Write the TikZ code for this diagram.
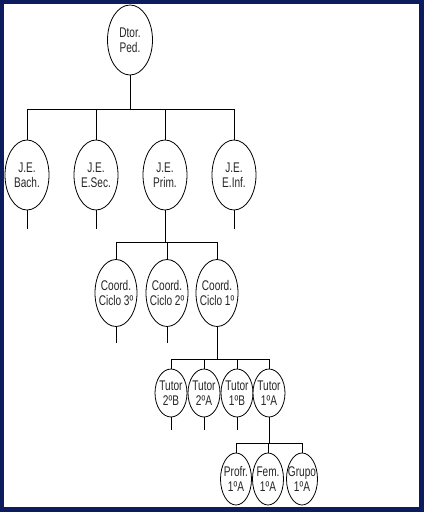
\documentclass[tikz,border=0pt]{standalone}
\usepackage{fontspec}
\setmainfont{Liberation Sans}[FakeStretch=0.72]
\usetikzlibrary{shapes.geometric}
\definecolor{navy}{RGB}{12,28,95}
\tikzset{
  ell/.style={ellipse, draw=black, line width=0.8pt, fill=white, inner sep=0pt},
  lvA/.style={ell, minimum width=45pt, minimum height=70pt},
  lvB/.style={ell, minimum width=44pt, minimum height=70pt},
  lvC/.style={ell, minimum width=42pt, minimum height=67pt},
  lvD/.style={ell, minimum width=32pt, minimum height=48pt},
  lvE/.style={ell, minimum width=31pt, minimum height=52pt},
  every label/.style={align=center, inner sep=0pt, text=black!85,
    font=\fontsize{14pt}{15pt}\selectfont},
  conn/.style={line width=0.9pt, draw=black}
}
\begin{document}
\begin{tikzpicture}[x=1pt, y=-1pt]
\useasboundingbox (0,0) rectangle (424,512);
\fill[navy] (0,0) rectangle (424,512);
\fill[white] (4,4) rectangle (419,507);

% level 1
\node[lvA, label={center:Dtor.\\Ped.}] (dtor) at (130,40) {};
% level 2
\node[lvB, label={center:J.E.\\Bach.}] (bach) at (27,175) {};
\node[lvB, label={center:J.E.\\E.Sec.}] (esec) at (96,175) {};
\node[lvB, label={center:J.E.\\Prim.}] (prim) at (165,175) {};
\node[lvB, label={center:J.E.\\E.Inf.}] (einf) at (234,175) {};
% level 3
\node[lvC, label={center:Coord.\\Ciclo 3º}] (c3) at (116,293) {};
\node[lvC, label={center:Coord.\\Ciclo 2º}] (c2) at (167,293) {};
\node[lvC, label={center:Coord.\\Ciclo 1º}] (c1) at (217,293) {};
% level 4
\node[lvD, label={center:Tutor\\2ºB}] (t2b) at (171,393) {};
\node[lvD, label={center:Tutor\\2ºA}] (t2a) at (204,393) {};
\node[lvD, label={center:Tutor\\1ºB}] (t1b) at (237,393) {};
\node[lvD, label={center:Tutor\\1ºA}] (t1a) at (269,393) {};
% level 5
\node[lvE, label={center:Profr.\\1ºA}] (prof) at (236,479) {};
\node[lvE, label={center:Fem.\\1ºA}] (fem) at (268,479) {};
\node[lvE, label={center:Grupo\\1ºA}] (grupo) at (302,479) {};

% bar coordinates
\coordinate (barA) at (130,109);
\coordinate (barB) at (165,242);
\coordinate (barC) at (217,359);
\coordinate (barD) at (269,443);

% level 1 -> 2
\draw[conn] (dtor.south) -- (barA);
\draw[conn] (bach.north) -- (bach.north |- barA) -- (einf.north |- barA) -- (einf.north);
\draw[conn] (esec.north) -- (esec.north |- barA);
\draw[conn] (prim.north) -- (prim.north |- barA);
% stubs level 2
\draw[conn] (bach.south) -- ++(0,19);
\draw[conn] (esec.south) -- ++(0,19);
\draw[conn] (einf.south) -- ++(0,19);
% level 2 -> 3
\draw[conn] (prim.south) -- (barB);
\draw[conn] (c3.north) -- (c3.north |- barB) -- (c1.north |- barB) -- (c1.north);
\draw[conn] (c2.north) -- (c2.north |- barB);
% stubs level 3
\draw[conn] (c3.south) -- ++(0,16);
\draw[conn] (c2.south) -- ++(0,16);
% level 3 -> 4
\draw[conn] (c1.south) -- (barC);
\draw[conn] (t2b.north) -- (t2b.north |- barC) -- (t1a.north |- barC) -- (t1a.north);
\draw[conn] (t2a.north) -- (t2a.north |- barC);
\draw[conn] (t1b.north) -- (t1b.north |- barC);
% stubs level 4
\draw[conn] (t2b.south) -- ++(0,13);
\draw[conn] (t2a.south) -- ++(0,13);
\draw[conn] (t1b.south) -- ++(0,13);
% level 4 -> 5
\draw[conn] (t1a.south) -- (barD);
\draw[conn] (prof.north) -- (prof.north |- barD) -- (grupo.north |- barD) -- (grupo.north);
\draw[conn] (fem.north) -- (fem.north |- barD);
\end{tikzpicture}
\end{document}
